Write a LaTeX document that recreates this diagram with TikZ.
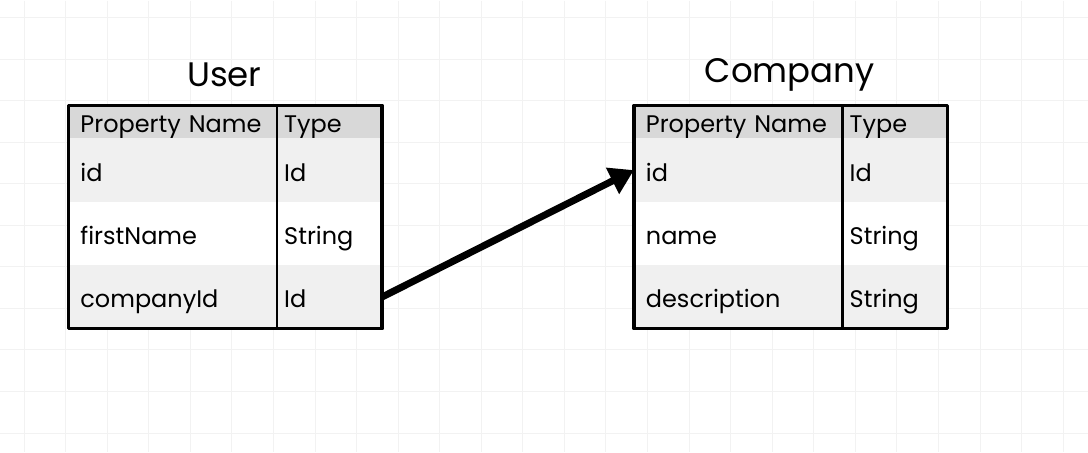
\documentclass[tikz,border=0pt]{standalone}
\usepackage{fontspec}
\setmainfont{Poppins}
\usetikzlibrary{positioning,arrows.meta}
\definecolor{hdrgray}{RGB}{216,216,216}
\definecolor{rowgray}{RGB}{240,240,240}
\definecolor{gridgray}{RGB}{242,242,242}
\tikzset{
  cell/.style={rectangle, inner ysep=0pt, outer sep=0pt,
    minimum height=63.5pt, align=left, text height=23pt, text depth=1pt,
    font=\fontsize{24}{27}\selectfont},
  hdr/.style={cell, fill=hdrgray, minimum height=33pt},
  odd/.style={cell, fill=rowgray},
  even/.style={cell, fill=white},
  namecol/.style={inner xsep=12pt, text width=185pt, minimum width=209pt},
  typecol/.style={inner xsep=7pt, text width=91pt, minimum width=105pt},
  title/.style={font=\fontsize{34}{38}\selectfont},
  frame/.style={line width=3.5pt, line join=round},
}
\begin{document}
\begin{tikzpicture}[x=1pt,y=-1pt]
      \fill[white] (0,0) rectangle (1088,452);
      \foreach \x in {23.6,65.2,...,1088}
        \draw[gridgray, line width=1pt] (\x,0) -- (\x,452);
      \foreach \y in {17,58.6,...,452}
        \draw[gridgray, line width=1pt] (0,\y) -- (1088,\y);

      \node[title] (user) at (224,74) {User};
      \node[hdr, namecol, anchor=north west] (u-h1) at (68,105) {Property Name};
      \node[hdr, typecol, right=0pt of u-h1] (u-h2) {Type};
      \node[odd, namecol, below=0pt of u-h1] (u-r1c1) {id};
      \node[odd, typecol, right=0pt of u-r1c1] (u-r1c2) {Id};
      \node[even, namecol, below=0pt of u-r1c1] (u-r2c1) {firstName};
      \node[even, typecol, right=0pt of u-r2c1] (u-r2c2) {String};
      \node[odd, namecol, below=0pt of u-r2c1] (u-r3c1) {companyId};
      \node[odd, typecol, right=0pt of u-r3c1] (u-r3c2) {Id};
      \draw[frame] (u-h1.north west) rectangle (u-r3c2.south east);
      \draw[line width=2.5pt] (u-h2.north west) -- (u-r3c2.south west);

      \node[title] (company) at (790,74) {Company};
      \node[hdr, namecol, anchor=north west] (c-h1) at (634,105) {Property Name};
      \node[hdr, typecol, right=0pt of c-h1] (c-h2) {Type};
      \node[odd, namecol, below=0pt of c-h1] (c-r1c1) {id};
      \node[odd, typecol, right=0pt of c-r1c1] (c-r1c2) {Id};
      \node[even, namecol, below=0pt of c-r1c1] (c-r2c1) {name};
      \node[even, typecol, right=0pt of c-r2c1] (c-r2c2) {String};
      \node[odd, namecol, below=0pt of c-r2c1] (c-r3c1) {description};
      \node[odd, typecol, right=0pt of c-r3c1] (c-r3c2) {String};
      \draw[frame] (c-h1.north west) rectangle (c-r3c2.south east);
      \draw[line width=2.5pt] (c-h2.north west) -- (c-r3c2.south west);

      \draw[line width=7pt, -{Triangle[length=24pt,width=28pt]}]
        (u-r3c2.east) to (c-r1c1.west);
    \end{tikzpicture}
\end{document}
